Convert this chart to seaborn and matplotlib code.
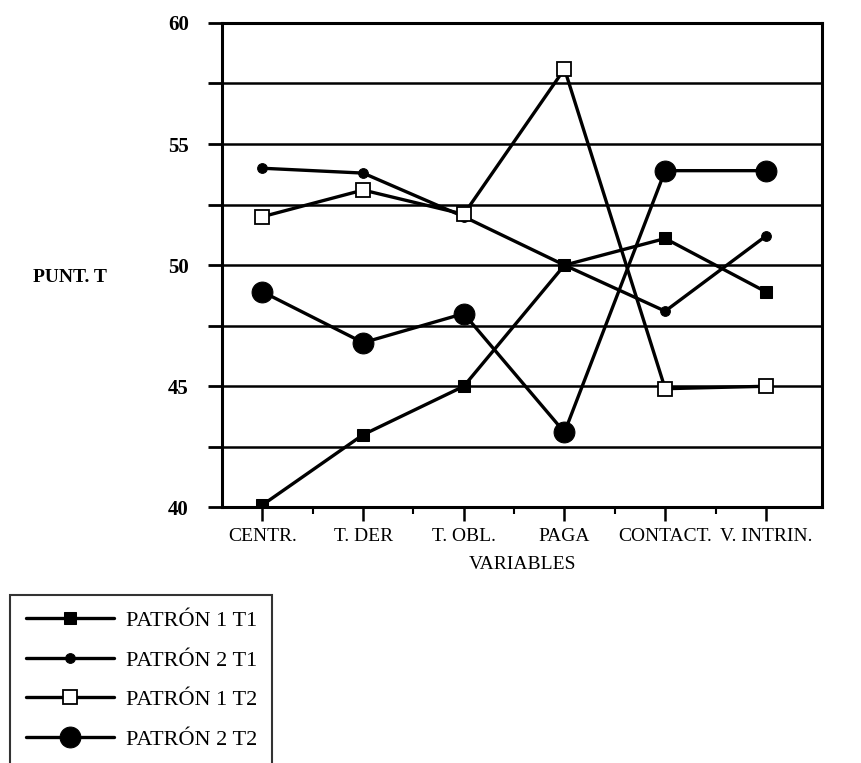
import numpy as np
import pandas as pd
import matplotlib
matplotlib.use("Agg")
import matplotlib.pyplot as plt
from matplotlib.ticker import FixedLocator
import seaborn as sns

sns.set_style("white", {"xtick.bottom": True, "ytick.left": True})
plt.rcParams["font.family"] = ["Liberation Serif", "DejaVu Serif"]
plt.rcParams["text.color"] = "black"
plt.rcParams["axes.labelcolor"] = "black"
plt.rcParams["xtick.color"] = "black"
plt.rcParams["ytick.color"] = "black"

categories = ["CENTR.", "T. DER", "T. OBL.", "PAGA", "CONTACT.", "V. INTRIN."]
patron1_t1 = [40.1, 43.0, 45.0, 50.0, 51.1, 48.9]
patron2_t1 = [54.0, 53.8, 52.0, 50.0, 48.1, 51.2]
patron1_t2 = [52.0, 53.1, 52.1, 58.1, 44.9, 45.0]
patron2_t2 = [48.9, 46.8, 48.0, 43.1, 53.9, 53.9]

series = {
    "PATRÓN 1 T1": patron1_t1,
    "PATRÓN 2 T1": patron2_t1,
    "PATRÓN 2 T2": patron2_t2,
    "PATRÓN 1 T2": patron1_t2,
}
styles = {
    "PATRÓN 1 T1": dict(marker="s", markersize=8, markerfacecolor="black"),
    "PATRÓN 2 T1": dict(marker="o", markersize=7, markerfacecolor="black"),
    "PATRÓN 1 T2": dict(marker="s", markersize=10, markerfacecolor="white", markeredgewidth=1.3),
    "PATRÓN 2 T2": dict(marker="o", markersize=15, markerfacecolor="black"),
}
legend_order = ["PATRÓN 1 T1", "PATRÓN 2 T1", "PATRÓN 1 T2", "PATRÓN 2 T2"]

x = np.arange(len(categories))

fig = plt.figure(figsize=(8.61, 7.63), dpi=100)
ax = fig.add_axes([0.258, 0.335, 0.697, 0.635])

for name, vals in series.items():
    df = pd.DataFrame({"x": x, "y": vals})
    sns.lineplot(data=df, x="x", y="y", ax=ax, color="black", linewidth=2.4,
                 markeredgecolor="black", label=name, sort=False, zorder=3,
                 **styles[name])

ax.set_xlim(-0.4, 5.56)
ax.set_ylim(40, 60)

ax.set_xticks(x)
ax.set_xticklabels(categories, fontsize=14)
ax.xaxis.set_minor_locator(FixedLocator(x[:-1] + 0.5))
ax.set_yticks([40, 45, 50, 55, 60])
ax.set_yticklabels(["40", "45", "50", "55", "60"], fontsize=15, fontweight="bold")
ax.yaxis.set_minor_locator(FixedLocator([42.5, 47.5, 52.5, 57.5]))

ax.tick_params(axis="x", which="major", bottom=True, direction="out", length=10, width=1.8, pad=5)
ax.tick_params(axis="x", which="minor", bottom=True, direction="out", length=5, width=1.5)
ax.tick_params(axis="y", which="both", left=True, direction="out", length=10, width=2, pad=14)

ax.grid(axis="y", which="both", color="black", linewidth=1.8)
ax.grid(axis="x", visible=False)
ax.set_axisbelow(True)

for sp in ax.spines.values():
    sp.set_visible(True)
    sp.set_color("black")
    sp.set_linewidth(2.2)

ax.set_ylabel("PUNT. T", rotation=0, fontsize=14, fontweight="bold", ha="center", va="center")
ax.yaxis.set_label_coords(-0.253, 0.475)
ax.set_xlabel("VARIABLES", fontsize=14)
ax.xaxis.set_label_coords(0.5, -0.1)

handles, labels = ax.get_legend_handles_labels()
ax.get_legend().remove()
lookup = dict(zip(labels, handles))
leg = fig.legend([lookup[n] for n in legend_order], legend_order,
                 loc="upper left", bbox_to_anchor=(0.0116, 0.22), borderaxespad=0,
                 fontsize=16, handlelength=4.0, labelspacing=0.85, frameon=True,
                 fancybox=False, edgecolor="black", borderpad=0.7, handletextpad=0.5)
leg.get_frame().set_linewidth(1.5)
for h in leg.legend_handles:
    h.set_linewidth(2.4)

fig.savefig("out.png", dpi=100)
